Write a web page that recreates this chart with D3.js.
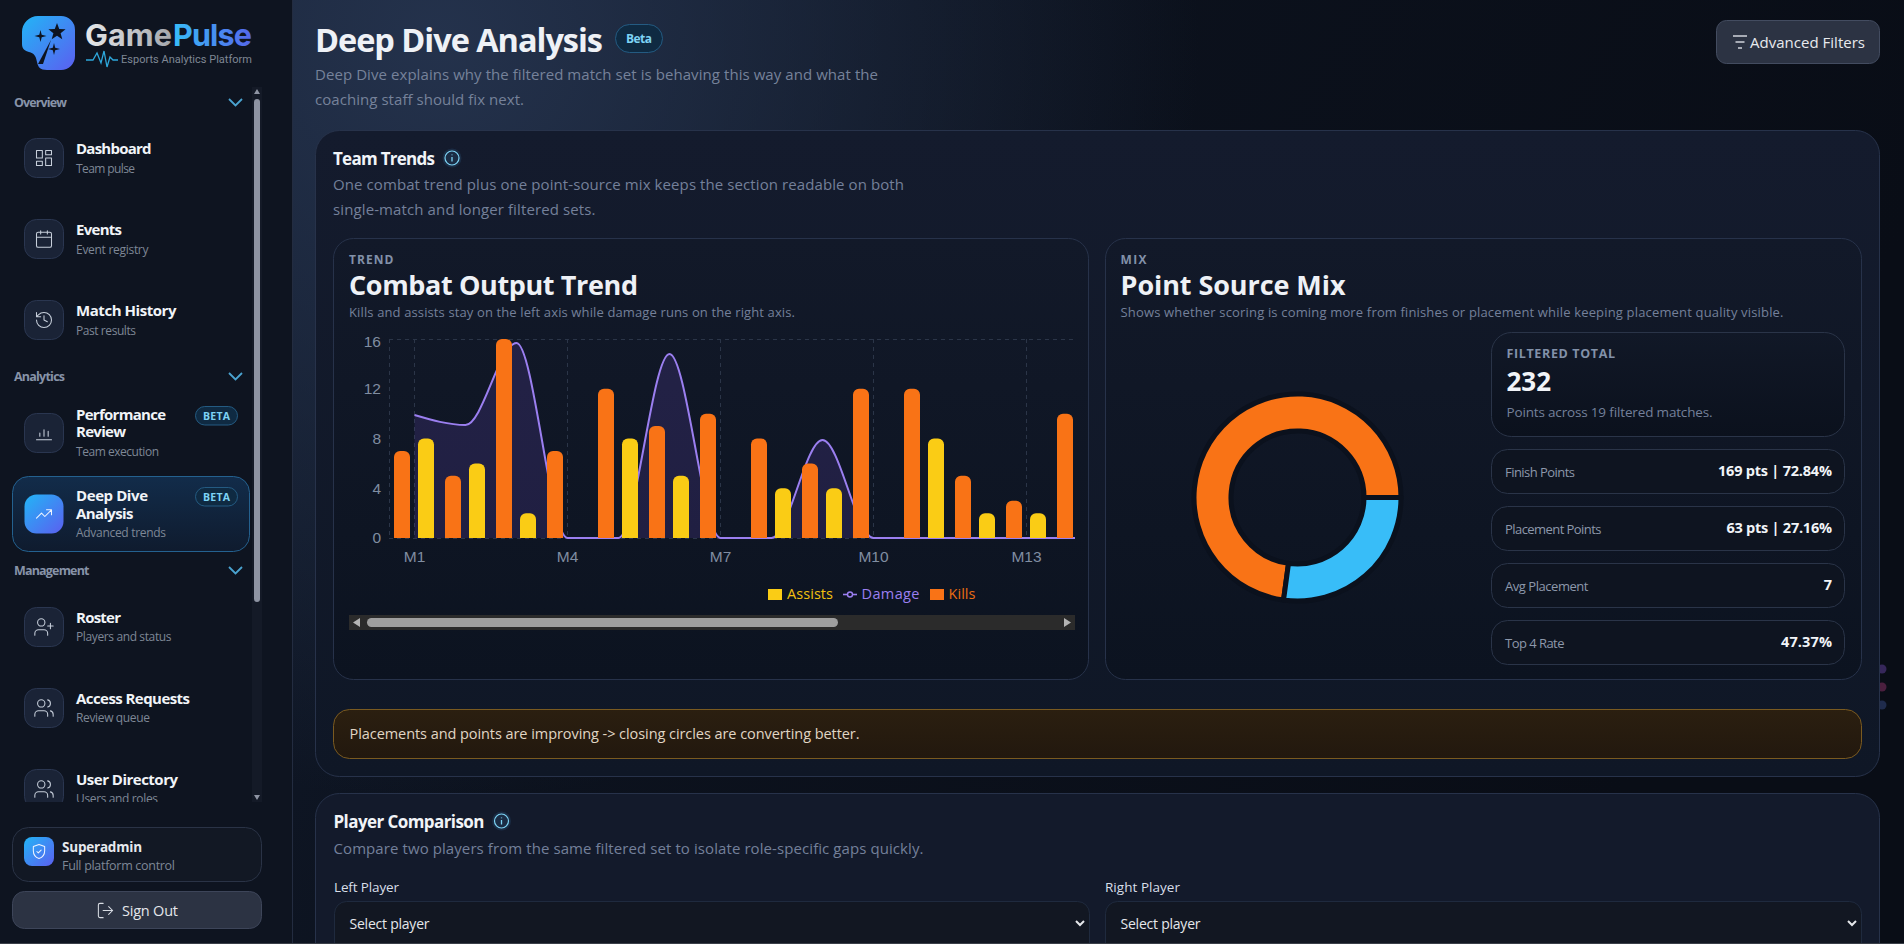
<!DOCTYPE html>
<html>
<head>
<meta charset="utf-8">
<title>Deep Dive Analysis</title>
<script src="https://cdn.jsdelivr.net/npm/d3@7"></script>
<style>
  html, body { margin: 0; padding: 0; width: 1904px; height: 944px; overflow: hidden; background: #0a0f1a; }
  svg { display: block; font-family: "Open Sans", "Noto Sans", sans-serif; }
</style>
</head>
<body>
<svg id="page" width="1904" height="944" viewBox="0 0 1904 944"></svg>
<script>
// chart data
const matches = ["M1", "M2", "M3", "M4", "M5", "M6", "M7", "M8", "M9", "M10", "M11", "M12", "M13", "M14"];
const kills = [7, 5, 16, 7, 12, 9, 10, 8, 6, 12, 12, 5, 3, 10];
const assists = [8, 6, 2, 0, 8, 5, 0, 4, 4, 0, 8, 2, 2, 0];
const damage = [1236, 1136, 1960, 0, 0, 1850, 0, 0, 985, 0, 0, 0, 0, 0];
const leftTicks = [0, 4, 8, 12, 16];
const matchTicks = ["M1", "M4", "M7", "M10", "M13"];

const mixLabels = ["Finish Points", "Placement Points"];
const mixValues = [169, 63];
const mixColors = ["#f97316", "#38bdf8"];

const statLabels = ["Finish Points", "Placement Points", "Avg Placement", "Top 4 Rate"];
const statValues = ["169 pts | 72.84%", "63 pts | 27.16%", "7", "47.37%"];

const ICONS = {
  dashboard: "M3 3h7v9H3z M14 3h7v5h-7z M14 12h7v9h-7z M3 16h7v5H3z",
  calendar: "M8 2v4 M16 2v4 M5 4h14a2 2 0 0 1 2 2v14a2 2 0 0 1-2 2H5a2 2 0 0 1-2-2V6a2 2 0 0 1 2-2z M3 10h18",
  history: "M3 12a9 9 0 1 0 9-9 9.75 9.75 0 0 0-6.74 2.74L3 8 M3 3v5h5 M12 7v5l4 2",
  bars: "M3 20h18 M7 16v-4 M12 16V8 M17 16v-6",
  trend: "M3 17l6-6 4 4 8-8 M15 7h6v6",
  userPlus: "M16 21v-2a4 4 0 0 0-4-4H6a4 4 0 0 0-4 4v2 M13 7a4 4 0 1 1-8 0 4 4 0 0 1 8 0z M19 8v6 M22 11h-6",
  users: "M16 21v-2a4 4 0 0 0-4-4H6a4 4 0 0 0-4 4v2 M13 7a4 4 0 1 1-8 0 4 4 0 0 1 8 0z M22 21v-2a4 4 0 0 0-3-3.87 M16 3.13a4 4 0 0 1 0 7.75",
  shield: "M12 2 4 5v6c0 5 3.4 9.4 8 11 4.6-1.6 8-6 8-11V5z M9 12l2 2 4-4",
  logout: "M9 21H5a2 2 0 0 1-2-2V5a2 2 0 0 1 2-2h4 M16 17l5-5-5-5 M21 12H9",
};

const svg = d3.select("#page");
const defs = svg.append("defs");

function gradient(id, x1, y1, x2, y2, stops) {
  const g = defs.append("linearGradient").attr("id", id)
    .attr("x1", x1).attr("y1", y1).attr("x2", x2).attr("y2", y2);
  stops.forEach(([o, c]) => g.append("stop").attr("offset", o).attr("stop-color", c));
}
gradient("mainBg", 0, 0, 1, 0.25, [[0, "#141f33"], [0.45, "#0c121e"], [1, "#090d16"]]);
gradient("panelBg", 0, 0, 0, 1, [[0, "#141b2d"], [1, "#0f1726"]]);
gradient("cardBg", 0, 0, 0, 1, [[0, "#121929"], [1, "#0c1320"]]);
gradient("statBg", 0, 0, 0, 1, [[0, "#111827"], [1, "#0b111d"]]);
gradient("activeBg", 0, 0, 0, 1, [[0, "#122c4a"], [1, "#0f1b2e"]]);
gradient("iconBg", 0, 0, 1, 1, [[0, "#22b5f6"], [1, "#5b5ff0"]]);
gradient("alertBg", 0, 0, 0, 1, [[0, "#2b1f10"], [1, "#22180e"]]);
gradient("gameFill", 0, 0, 1, 0, [[0, "#e6e8ea"], [1, "#a4a7ac"]]);
gradient("pulseFill", 0, 0, 1, 0, [[0, "#38bdf8"], [1, "#5566ea"]]);
const glow = defs.append("radialGradient").attr("id", "mainGlow")
  .attr("gradientUnits", "userSpaceOnUse").attr("cx", 440).attr("cy", 40).attr("r", 760);
glow.append("stop").attr("offset", 0).attr("stop-color", "#24324c");
glow.append("stop").attr("offset", 1).attr("stop-color", "#24324c").attr("stop-opacity", 0);

function box(x, y, w, h, r, fill, stroke, parent = svg) {
  return parent.append("rect").attr("x", x).attr("y", y).attr("width", w).attr("height", h)
    .attr("rx", r).attr("fill", fill).attr("stroke", stroke || "none");
}

// cy is the visual centre of the line, w the measured width of the string
function txt(x, cy, str, o = {}, parent = svg) {
  const t = parent.append("text").attr("x", x).attr("y", cy).attr("dy", "0.35em")
    .attr("font-size", o.size || 13).attr("font-weight", o.weight || 400)
    .attr("fill", o.fill || "#7e8796").attr("text-anchor", o.anchor || "start").text(str);
  if (o.font) t.attr("font-family", o.font);
  if (o.w) t.attr("textLength", o.w).attr("lengthAdjust", "spacing");
  return t;
}

function icon(x, y, size, name, color, sw = 2, parent = svg) {
  const k = size / 24;
  return parent.append("path").attr("d", ICONS[name])
    .attr("transform", `translate(${x},${y}) scale(${k})`)
    .attr("fill", "none").attr("stroke", color).attr("stroke-width", sw / k * 0.75)
    .attr("stroke-linecap", "round").attr("stroke-linejoin", "round");
}

// page background
svg.append("rect").attr("width", 1904).attr("height", 944).attr("fill", "url(#mainBg)");
svg.append("rect").attr("width", 1904).attr("height", 944).attr("fill", "url(#mainGlow)");

// faint dots peeking out at the right edge
[["#36275a", 669], ["#4a1f3e", 687], ["#1f2b4c", 705]].forEach(([c, y]) => {
  svg.append("circle").attr("cx", 1882).attr("cy", y).attr("r", 4.5).attr("fill", c);
});

/* ---------- sidebar ---------- */
svg.append("rect").attr("width", 292).attr("height", 944).attr("fill", "#0e1420");
svg.append("line").attr("x1", 292.5).attr("x2", 292.5).attr("y1", 0).attr("y2", 944).attr("stroke", "#232c40");

svg.append("path")
  .attr("d", "M38 16h23a14 14 0 0 1 14 14v26a14 14 0 0 1-14 14H47c-7 0-9-3-10-8-1-6-3-9-8-10-4-1-7-3-7-8V32a16 16 0 0 1 16-16z")
  .attr("fill", "url(#iconBg)");
const star = (r, n) => d3.lineRadial().curve(d3.curveLinearClosed)(
  d3.range(n * 2).map(i => [i * Math.PI / n, i % 2 ? r * (n === 4 ? 0.28 : 0.42) : r])
);
[[40.5, 36, 6, 4], [57, 32, 9, 5], [54, 49, 6, 4]].forEach(([cx, cy, r, n]) => {
  svg.append("path").attr("d", star(r, n)).attr("transform", `translate(${cx},${cy})`).attr("fill", "#0e1420");
});
svg.append("path").attr("d", "M38 64 L51 40 L43 64 Z").attr("fill", "#0e1420");
txt(85, 35, "Game", { size: 30.5, weight: 700, fill: "url(#gameFill)", w: 87, font: "Inter" });
txt(173, 35, "Pulse", { size: 30.5, weight: 700, fill: "url(#pulseFill)", w: 79, font: "Inter" });
svg.append("path").attr("d", "M86 60h7l4-7 4 10 3-12 3 16 3-10 3 3h5")
  .attr("fill", "none").attr("stroke", "#2ea8dc").attr("stroke-width", 1.3);
txt(121, 59.5, "Esports Analytics Platform", { size: 11, fill: "#7f8794", w: 131, font: "Roboto" });

// sidebar scrollbar
box(252, 87, 10, 715, 0, "#141a27");
box(254, 99, 6, 503, 3, "#8e94a3");
svg.append("path").attr("d", "M257 89l3 5h-6z M257 800l3-5h-6z").attr("fill", "#8e94a3");

function navSection(cy, label, w) {
  txt(14, cy, label, { size: 12.5, weight: 700, fill: "#8793a8", w });
  svg.append("path").attr("d", `M229 ${cy - 4}l6.5 6.5 6.5-6.5`).attr("fill", "none")
    .attr("stroke", "#4aa3d0").attr("stroke-width", 1.8);
}
function betaPill(y) {
  box(195.5, y, 42, 18.5, 9.25, "#0f2a42", "#245b82");
  txt(216.5, y + 9.5, "BETA", { size: 10.5, weight: 700, fill: "#7dd3f5", anchor: "middle", w: 27 });
}
function navIcon(y, name, active, parent = svg) {
  box(24.5, y + 0.5, 39, 39, 12, active ? "url(#iconBg)" : "#1a2336", active ? null : "#2a3650", parent);
  const size = name === "users" || name === "userPlus" ? 22 : 20;
  icon(44 - size / 2, y + 20 - size / 2, size, name, active ? "#eef4ff" : "#c7cfdb", 1.4, parent);
}
const navClip = defs.append("clipPath").attr("id", "navClip");
navClip.append("rect").attr("x", 0).attr("y", 85).attr("width", 252).attr("height", 717);
const nav = svg.append("g").attr("clip-path", "url(#navClip)");

function navItem(y, name, title, tw, subCy, sub, sw) {
  navIcon(y, name, false, nav);
  txt(76, y + 10.5, title, { size: 15, weight: 700, fill: "#f1f4f8", w: tw }, nav);
  txt(76, subCy, sub, { size: 12, fill: "#7e8796", w: sw }, nav);
}

navSection(103, "Overview", 53);
navItem(138, "dashboard", "Dashboard", 75.5, 169, "Team pulse", 59);
navItem(219, "calendar", "Events", 46, 250, "Event registry", 72.5);
navItem(300, "history", "Match History", 100.5, 331, "Past results", 60);

navSection(377, "Analytics", 51);
navIcon(413, "bars", false, nav);
txt(76, 415, "Performance", { size: 15, weight: 700, fill: "#f1f4f8", w: 90 }, nav);
txt(76, 432, "Review", { size: 15, weight: 700, fill: "#f1f4f8", w: 50 }, nav);
txt(76, 452, "Team execution", { size: 12, w: 83 }, nav);
betaPill(406.5);

box(12.5, 476.5, 237, 75, 16, "url(#activeBg)", "#24618f", nav);
navIcon(494, "trend", true, nav);
txt(76, 496, "Deep Dive", { size: 15, weight: 700, fill: "#f1f4f8", w: 72 }, nav);
txt(76, 514, "Analysis", { size: 15, weight: 700, fill: "#f1f4f8", w: 57.5 }, nav);
txt(76, 533, "Advanced trends", { size: 12, w: 90 }, nav);
betaPill(487.5);

navSection(571, "Management", 75.5);
navItem(607, "userPlus", "Roster", 45, 637, "Players and status", 95.5);
navItem(688, "users", "Access Requests", 114, 718, "Review queue", 74);
navItem(769, "users", "User Directory", 102, 799, "Users and roles", 82);

box(12.5, 827.5, 249, 54, 16, "#121824", "#2a3346");
box(24, 837, 30, 29, 8, "url(#iconBg)");
icon(30.5, 843, 17, "shield", "#eef4ff", 1.4);
txt(62, 847, "Superadmin", { size: 13.5, weight: 700, fill: "#e6e9ee", w: 80 });
txt(62, 866, "Full platform control", { size: 12.5, w: 113 });

box(12.5, 891.5, 249, 37, 12, "#2c3343", "#3d4559");
icon(96, 901, 19, "logout", "#d8dce3", 1.4);
txt(122, 911, "Sign Out", { size: 14.5, fill: "#e5e7eb", w: 56 });

/* ---------- page header ---------- */
txt(315, 40.5, "Deep Dive Analysis", { size: 32.5, weight: 700, fill: "#eef1f6", w: 288 });
box(615.5, 24.5, 47, 28, 14, "#0f2a42", "#245b82");
txt(639, 39, "Beta", { size: 12, weight: 700, fill: "#7dd3f5", anchor: "middle", w: 26 });
txt(315, 75, "Deep Dive explains why the filtered match set is behaving this way and what the", { size: 15, fill: "#76829a", w: 563 });
txt(315, 100, "coaching staff should fix next.", { size: 15, fill: "#76829a", w: 209 });

box(1716.5, 20.5, 163, 43, 10, "#2c3343", "#434c60");
svg.append("path").attr("d", "M1733 36h14 M1735.5 42h9 M1738 48h4").attr("stroke", "#cfd4dc").attr("stroke-width", 1.4);
txt(1750, 43, "Advanced Filters", { size: 15, fill: "#e8eaee", w: 115 });

function infoIcon(cx, cy) {
  svg.append("circle").attr("cx", cx).attr("cy", cy).attr("r", 9.5).attr("fill", "#1b2c44");
  svg.append("circle").attr("cx", cx).attr("cy", cy).attr("r", 7).attr("fill", "none")
    .attr("stroke", "#7dd3f5").attr("stroke-width", 1.2);
  svg.append("path").attr("d", `M${cx} ${cy - 3.6}v.8 M${cx} ${cy - 1}v4.6`).attr("stroke", "#7dd3f5").attr("stroke-width", 1.3);
}

/* ---------- team trends panel ---------- */
box(315.5, 130.5, 1564, 646, 24, "url(#panelBg)", "#27324a");
txt(333, 159, "Team Trends", { size: 17, weight: 700, fill: "#f1f4f8", w: 102 });
infoIcon(452, 158);
txt(333, 185, "One combat trend plus one point-source mix keeps the section readable on both", { size: 15, fill: "#74809a", w: 571 });
txt(333, 210, "single-match and longer filtered sets.", { size: 15, fill: "#74809a", w: 262.5 });

box(333.5, 238.5, 755, 441, 20, "url(#cardBg)", "#27324a");
txt(349, 260, "TREND", { size: 12, weight: 700, fill: "#8291a9", w: 44.5 });
txt(349, 285.5, "Combat Output Trend", { size: 27, weight: 700, fill: "#eef1f6", w: 289 });
txt(349, 312, "Kills and assists stay on the left axis while damage runs on the right axis.", { size: 13, fill: "#74809a", w: 446 });

/* combat chart */
const plot = { left: 389, top: 339, bottom: 538, right: 1075, step: 51 };
const xScale = d3.scaleBand().domain(matches)
  .range([plot.left, plot.left + plot.step * matches.length]);
// kills and assists sit side by side inside each match band
const xInner = d3.scaleBand().domain(["kills", "assists"]).range([5, 45]).paddingInner(1 / 3);
const yLeft = d3.scaleLinear().domain([0, 16]).range([plot.bottom, plot.top]);
const yRight = d3.scaleLinear().domain([0, 2000]).range([plot.bottom, plot.top]);

const clip = defs.append("clipPath").attr("id", "plotClip");
clip.append("rect").attr("x", plot.left).attr("y", plot.top - 4)
  .attr("width", plot.right - plot.left).attr("height", plot.bottom - plot.top + 6);

const gridStyle = sel => sel.attr("stroke", "#2b3548").attr("stroke-width", 1).attr("stroke-dasharray", "4 4");
svg.append("g").selectAll("line").data(matchTicks).join("line")
  .attr("x1", d => xScale(d) + xScale.bandwidth() / 2).attr("x2", d => xScale(d) + xScale.bandwidth() / 2)
  .attr("y1", plot.top).attr("y2", plot.bottom).call(gridStyle);
svg.append("line").attr("x1", plot.left + 0.5).attr("x2", plot.left + 0.5).attr("y1", plot.top).attr("y2", plot.bottom).call(gridStyle);
svg.append("line").attr("x1", plot.left).attr("x2", plot.right).attr("y1", plot.top + 0.5).attr("y2", plot.top + 0.5).call(gridStyle);
svg.append("line").attr("x1", plot.left).attr("x2", plot.right).attr("y1", plot.bottom + 0.5).attr("y2", plot.bottom + 0.5).call(gridStyle);

const yAxis = svg.append("g").attr("transform", `translate(${plot.left},0)`)
  .call(d3.axisLeft(yLeft).tickValues(leftTicks).tickSize(0).tickPadding(8));
const xAxis = svg.append("g").attr("transform", `translate(0,${plot.bottom})`)
  .call(d3.axisBottom(xScale).tickValues(matchTicks).tickSize(0).tickPadding(13));
[yAxis, xAxis].forEach(a => {
  a.select(".domain").remove();
  a.selectAll("text").attr("fill", "#808da1").attr("font-size", 15.5).attr("font-family", "inherit");
});
// the top label sits just inside the plot in the reference
yAxis.selectAll("text").filter(d => d === 16).attr("y", 2.5);

const chart = svg.append("g").attr("clip-path", "url(#plotClip)");
const midX = (d, i) => xScale(matches[i]) + xScale.bandwidth() / 2;
chart.append("path").datum(damage)
  .attr("d", d3.area().x(midX).y0(plot.bottom).y1(d => yRight(d)).curve(d3.curveMonotoneX))
  .attr("fill", "#8b5cf6").attr("opacity", 0.15);
chart.append("path").datum(damage)
  .attr("d", d3.line().x(midX).y(d => yRight(d)).curve(d3.curveMonotoneX))
  .attr("fill", "none").attr("stroke", "#9b7ff0").attr("stroke-width", 2);

function barPath(x, y, w, h) {
  const r = Math.min(6, h);
  return `M${x} ${y + h}V${y + r}a${r} ${r} 0 0 1 ${r} ${-r}h${w - 2 * r}a${r} ${r} 0 0 1 ${r} ${r}V${y + h}Z`;
}
function drawBars(values, key, color) {
  chart.append("g").selectAll("path").data(values).join("path")
    .attr("d", (d, i) => d > 0
      ? barPath(xScale(matches[i]) + xInner(key), yLeft(d), xInner.bandwidth(), plot.bottom - yLeft(d))
      : null)
    .attr("fill", color);
}
drawBars(assists, "assists", "#facc15");
drawBars(kills, "kills", "#f97316");

// legend
box(768, 589, 14, 11, 0, "#facc15");
txt(787, 594, "Assists", { size: 14.5, fill: "#f0c010", w: 46 });
svg.append("line").attr("x1", 843).attr("x2", 857).attr("y1", 594.5).attr("y2", 594.5).attr("stroke", "#9b7ff0").attr("stroke-width", 1.6);
svg.append("circle").attr("cx", 850).attr("cy", 594.5).attr("r", 2.5).attr("fill", "#0e1522").attr("stroke", "#9b7ff0").attr("stroke-width", 1.4);
txt(861.5, 594, "Damage", { size: 14.5, fill: "#9b7ff0", w: 58 });
box(930, 589, 14, 11, 0, "#f97316");
txt(948.5, 594, "Kills", { size: 14.5, fill: "#ea6c12", w: 27 });

// chart horizontal scrollbar
box(349, 615, 726, 15, 0, "#2b2b2b");
box(367, 618, 471, 9, 4.5, "#9f9f9f");
svg.append("path").attr("d", "M353 622.5l7-4.5v9z M1071 622.5l-7-4.5v9z").attr("fill", "#b4b4b4");

/* ---------- point source mix ---------- */
box(1105.5, 238.5, 756, 441, 20, "url(#cardBg)", "#27324a");
txt(1120.5, 260, "MIX", { size: 12, weight: 700, fill: "#8291a9", w: 26 });
txt(1120.5, 285.5, "Point Source Mix", { size: 27, weight: 700, fill: "#eef1f6", w: 225 });
txt(1120.5, 312, "Shows whether scoring is coming more from finishes or placement while keeping placement quality visible.", { size: 13, fill: "#74809a", w: 663 });

const pie = d3.pie().sort(null).startAngle(Math.PI / 2).endAngle(Math.PI / 2 - 2 * Math.PI);
const arc = d3.arc().innerRadius(66.5).outerRadius(103.5);
svg.append("g").attr("transform", "translate(1297.5,497.5)")
  .selectAll("path").data(pie(mixValues)).join("path")
  .attr("d", arc).attr("fill", (d, i) => mixColors[i])
  .attr("stroke", "#0b111d").attr("stroke-width", 5).attr("stroke-linejoin", "round")
  .append("title").text((d, i) => mixLabels[i]);

box(1491.5, 332.5, 353, 104, 20, "url(#statBg)", "#2a3448");
txt(1506.5, 354, "FILTERED TOTAL", { size: 12.5, weight: 700, fill: "#8291a9", w: 108.5 });
txt(1506.5, 382, "232", { size: 26, weight: 700, fill: "#f1f4f8", w: 44.5 });
txt(1506.5, 412, "Points across 19 filtered matches.", { size: 13.5, fill: "#74809a", w: 206 });

const rowTops = [449, 506, 563, 620];
const labelWidths = [70, 96.5, 83.5, 59.5];
const valueWidths = [114, 105.5, 8, 51];
statLabels.forEach((label, i) => {
  box(1491.5, rowTops[i] + 0.5, 353, 44, 16, "#0e1420", "#2a3448");
  txt(1505, rowTops[i] + 23, label, { size: 13, fill: "#8d98ab", w: labelWidths[i] });
  txt(1832, rowTops[i] + 22, statValues[i], { size: 14.5, weight: 700, fill: "#f1f4f8", anchor: "end", w: valueWidths[i] });
});

/* ---------- insight banner ---------- */
box(333.5, 709.5, 1528, 49, 16, "url(#alertBg)", "#7a5a20");
txt(349.5, 734, "Placements and points are improving -> closing circles are converting better.", { size: 14.5, fill: "#e0d6c4", w: 510 });

/* ---------- player comparison ---------- */
box(315.5, 793.5, 1564, 300, 24, "#131a2b", "#27324a");
txt(333.5, 822, "Player Comparison", { size: 17, weight: 700, fill: "#f1f4f8", w: 151 });
infoIcon(501.5, 821);
txt(333.5, 849, "Compare two players from the same filtered set to isolate role-specific gaps quickly.", { size: 15, fill: "#74809a", w: 590 });

function selectBox(x, w, label, lw) {
  txt(x, 887, label, { size: 13.5, fill: "#d8dee9", w: lw });
  box(x + 0.5, 901.5, w, 80, 12, "#121722", "#1f2a3e");
  txt(x + 15.5, 924, "Select player", { size: 14, fill: "#e5e7eb", w: 80 });
  svg.append("path").attr("d", `M${x + w - 13} 921l4 4 4-4`).attr("fill", "none").attr("stroke", "#e5e7eb").attr("stroke-width", 2);
}
selectBox(334, 755, "Left Player", 65);
selectBox(1105, 756, "Right Player", 75);

svg.append("rect").attr("y", 943).attr("width", 1904).attr("height", 1).attr("fill", "#3a3f48");
</script>
</body>
</html>
